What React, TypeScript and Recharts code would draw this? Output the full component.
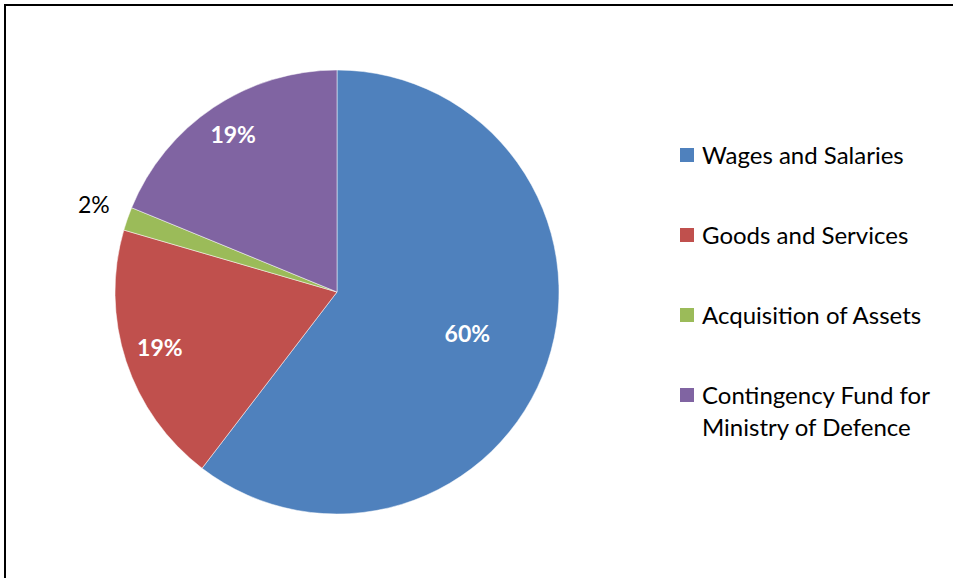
import { PieChart, Pie, Cell, Legend } from "recharts";

// budget categories and their estimated shares (%)
const categories = [
  "Wages and Salaries",
  "Goods and Services",
  "Acquisition of Assets",
  "Contingency Fund for Ministry of Defence",
];
const shares = [60.4, 19.1, 1.7, 18.8];
const colors = ["#4F81BD", "#C0504D", "#9BBB59", "#8064A2"];

const data = categories.map((name, i) => ({ name, value: shares[i] }));

const FONT = "Lato, 'Open Sans', sans-serif";
const RAD = Math.PI / 180;

function renderLabel(props: any) {
  const { cx, cy, midAngle, outerRadius, percent } = props;
  // big slice label sits closer to centre, small slices go outside
  let factor = 0.84;
  let fill = "#ffffff";
  let weight = 700;
  if (percent > 0.5) factor = 0.62;
  if (percent < 0.05) {
    factor = 1.16;
    fill = "#000000";
    weight = 400;
  }
  const r = outerRadius * factor;
  const x = cx + r * Math.cos(-midAngle * RAD);
  const y = cy + r * Math.sin(-midAngle * RAD) - 3;
  return (
    <text
      x={x}
      y={y}
      fill={fill}
      textAnchor="middle"
      dominantBaseline="central"
      style={{ fontFamily: FONT, fontSize: 23, fontWeight: weight }}
    >
      {`${Math.round(percent * 100)}%`}
    </text>
  );
}

// legend drawn in the data order (recharts would sort it by name)
function renderLegend() {
  return (
    <div style={{ fontFamily: FONT, fontSize: 24, color: "#000" }}>
      {categories.map((name, i) => (
        <div
          key={name}
          style={{
            display: "flex",
            alignItems: "flex-start",
            height: 80,
            paddingTop: 24,
            boxSizing: "border-box",
          }}
        >
          <span
            style={{
              width: 14,
              height: 14,
              marginTop: 9,
              background: colors[i],
              marginRight: 8,
              flexShrink: 0,
            }}
          />
          <span style={{ maxWidth: 250, lineHeight: "32px" }}>{name}</span>
        </div>
      ))}
    </div>
  );
}

export default function App() {
  return (
    <div
      style={{
        position: "absolute",
        left: 0,
        top: 0,
        width: 953,
        height: 578,
        overflow: "hidden",
        background: "#fff",
      }}
    >
      <div
        style={{
          position: "absolute",
          left: 4,
          top: 4,
          width: 980,
          height: 600,
          borderTop: "2px solid #000",
          borderLeft: "2px solid #000",
        }}
      />
      <div style={{ position: "absolute", left: 0, top: 0 }}>
        <PieChart
          width={953}
          height={578}
          margin={{ top: 0, right: 0, bottom: 0, left: 0 }}
        >
          <Pie
            data={data}
            dataKey="value"
            nameKey="name"
            cx={337}
            cy={292}
            outerRadius={222}
            startAngle={90}
            endAngle={-270}
            label={renderLabel}
            labelLine={false}
            stroke="#ffffff"
            strokeWidth={0.5}
            isAnimationActive={false}
          >
            {data.map((d, i) => (
              <Cell key={d.name} fill={colors[i]} />
            ))}
          </Pie>
          <Legend
            layout="vertical"
            content={renderLegend}
            wrapperStyle={{ left: 680, top: 115, width: 270 }}
          />
        </PieChart>
      </div>
    </div>
  );
}
